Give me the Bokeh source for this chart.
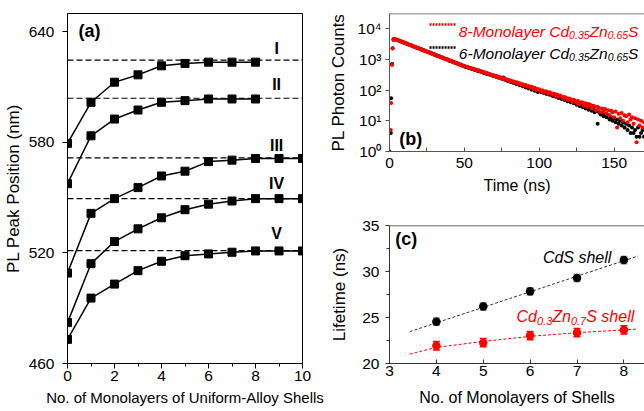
import math
from bokeh.plotting import figure
from bokeh.layouts import row, column
from bokeh.models import Range1d, Span, FixedTicker, Whisker, TeeHead, ColumnDataSource
from bokeh.core.properties import value
from bokeh.embed import file_html
from bokeh.resources import INLINE

FONT = "Liberation Sans"

# ---------------- data: panel (a) ----------------
shells_a = [0, 1, 2, 3, 4, 5, 6, 7, 8, 9, 10]
peak_I = [579.5, 601.8, 612.7, 616.7, 621.6, 622.9, 623.6, 623.6, 623.6]
peak_II = [557.6, 583.6, 592.7, 597.6, 601.8, 602.7, 603.6, 603.6, 603.6]
peak_III = [509.1, 541.5, 549.5, 555.5, 561.8, 564.4, 569.6, 570.4, 571.3, 571.3, 571.3]
peak_IV = [482.2, 514.2, 526.2, 533.1, 539.1, 543.5, 546.5, 548.2, 549.5, 549.5, 549.5]
peak_V = [473.1, 495.5, 503.1, 510.4, 515.5, 518.5, 519.5, 520.4, 521.1, 521.1, 521.1]
bulk_levels = [624.7, 604.0, 571.6, 549.5, 521.3]
series_names = ["I", "II", "III", "IV", "V"]
xticks_a = [0, 2, 4, 6, 8, 10]
xminor_a = [1, 3, 5, 7, 9]
yticks_a = [460, 520, 580, 640]

# ---------------- data: panel (b) ----------------
time_8ml = [0.8, 1.1, 1.7, 2.0, 2.6] + list(range(3, 171))
counts_8ml = [5, 38, 650, 2240, 4400,
    4700, 4520, 4250, 4130, 3890, 3800, 3560, 3470, 3250, 3180,
    2990, 2930, 2720, 2680, 2490, 2450, 2290, 2250, 2090, 2060,
    1910, 1890, 1750, 1730, 1600, 1590, 1460, 1450, 1340, 1330,
    1230, 1220, 1130, 1120, 1030, 1020, 945, 935, 865, 858,
    790, 785, 725, 720, 662, 660, 605,
    600, 585, 548, 540, 505, 512, 470, 470, 438, 445,
    405, 412, 380, 385, 352, 360, 330, 333, 305, 310,
    284, 290, 262, 270, 246, 252, 228, 235, 212, 218,
    198, 205, 183, 190, 172, 178, 158, 166, 148, 155,
    137, 145, 128, 134, 118, 127, 110, 118, 101, 108,
    104, 91, 99, 83, 92, 88, 76, 84, 79, 70,
    75, 64, 71, 60, 66, 62, 52, 59, 56, 47,
    53, 50, 41, 48, 45, 37, 44, 35, 40, 39,
    31, 37, 28, 35, 33, 25, 31, 29, 22, 28,
    26, 19, 25, 20, 24, 17, 22, 15, 21, 19,
    13, 20, 6, 17, 12, 18, 10, 15, 14, 9,
    16, 11, 13, 8, 12, 2, 11, 7, 10, 6, 9]
time_6ml = [0.0, 0.9, 1.1, 1.7, 2.1, 2.6] + list(range(3, 171))
counts_6ml = [1, 4, 54, 700, 2300, 4300,
    4600, 4430, 4310, 4060, 3960, 3720, 3630, 3400, 3320, 3110,
    3050, 2850, 2790, 2610, 2560, 2390, 2350, 2190, 2150, 2000,
    1970, 1830, 1800, 1680, 1650, 1540, 1510, 1410, 1390, 1290,
    1270, 1180, 1170, 1080, 1070, 990, 980, 905, 896, 828,
    822, 758, 752, 694, 690, 636, 632,
    582, 565, 558, 520, 522, 485, 490, 450, 455, 418,
    425, 390, 392, 360, 365, 335, 340, 312, 316, 290,
    293, 268, 274, 250, 254, 232, 257, 215, 220, 198,
    204, 182, 190, 168, 176, 155, 162, 143, 150, 132,
    139, 122, 128, 112, 118, 103, 110, 95, 101, 87,
    95, 86, 90, 80, 84, 74, 79, 70, 73, 64,
    68, 60, 63, 55, 58, 51, 54, 47, 50, 43,
    46, 40, 43, 37, 39, 33, 36, 30, 33, 28,
    30, 25, 28, 23, 26, 21, 24, 19, 21, 8,
    19, 16, 18, 14, 16, 13, 15, 11, 13, 10,
    12, 9, 11, 8, 10, 7, 9, 6, 8, 5,
    7, 4, 6, 4, 5, 3, 6, 3, 4, 5, 3]
xticks_b = [0, 50, 100, 150]
xminor_b = [25, 75, 125]
yticks_b = [1, 10, 100, 1000, 10000]
ylabels_b = ["10\u2070", "10\u00b9", "10\u00b2", "10\u00b3", "10\u2074"]

# ---------------- data: panel (c) ----------------
layers_c = [4, 5, 6, 7, 8]
life_cds = [24.55, 26.2, 27.84, 29.3, 31.24]
err_cds = [0.4, 0.4, 0.4, 0.4, 0.4]
life_alloy = [21.93, 22.26, 23.03, 23.35, 23.65]
err_alloy = [0.45, 0.45, 0.45, 0.45, 0.45]
fit_x_cds = [3.43, 8.3]
fit_y_cds = [23.46, 31.68]
fit_x_alloy = [3.43, 4, 5, 6, 7, 8, 8.3]
fit_y_alloy = [21.02, 21.75, 22.4, 22.95, 23.35, 23.65, 23.75]
xticks_c = [3, 4, 5, 6, 7, 8]
yticks_c = [20, 25, 30, 35]
yminor_c = [22.5, 27.5, 32.5]

RED = "#ff0000"

# ---------------- layout geometry (page has no margin) ----------------
A_W, A_H = 325, 411
A_BL, A_BR, A_BT, A_BB = 66, 23, 13, 48
B_W, B_H = 319, 215
B_BL, B_BR, B_BT, B_BB = 58, 0, 13, 64
C_W, C_H = 319, 196
C_BL, C_BR, C_BT, C_BB = 58, 0, 10, 48
A_X = (0, 10); A_Y = (460, 650)
B_X = (0, 170.3); B_Y = (1, 30900)
C_X = (3, 8.44); C_Y = (20, 35)


def a_x(px):
    l = A_BL; w = A_W - A_BL - A_BR
    return A_X[0] + (px - l) / w * (A_X[1] - A_X[0])


def a_y(py):
    t = A_BT; h = A_H - A_BT - A_BB
    return A_Y[1] - (py - t) / h * (A_Y[1] - A_Y[0])


def b_x(px):
    l = A_W + B_BL; w = B_W - B_BL - B_BR
    return B_X[0] + (px - l) / w * (B_X[1] - B_X[0])


def b_y(py):
    t = B_BT; h = B_H - B_BT - B_BB
    lo, hi = math.log10(B_Y[0]), math.log10(B_Y[1])
    return 10 ** (hi - (py - t) / h * (hi - lo))


def c_x(px):
    l = A_W + C_BL; w = C_W - C_BL - C_BR
    return C_X[0] + (px - l) / w * (C_X[1] - C_X[0])


def c_y(py):
    t = B_H + C_BT; h = C_H - C_BT - C_BB
    return C_Y[1] - (py - t) / h * (C_Y[1] - C_Y[0])


ADV = {'0': 556, '1': 556, '2': 556, '3': 556, '4': 556, '5': 556, '6': 556,
       '7': 556, '8': 556, '9': 556, '.': 278, '-': 333, ' ': 278, 'M': 833,
       'o': 556, 'n': 556, 'l': 222, 'a': 556, 'y': 500, 'e': 556, 'r': 333,
       'C': 722, 'd': 556, 'Z': 611, 'S': 667, 's': 500, 'h': 556}


def tw(s, size):
    return sum(ADV.get(ch, 556) for ch in s) * size / 1000.0


def rich(p, x, y, parts, color, size, subsize, drop):
    off = 0.0
    for s, sub in parts:
        fs = subsize if sub else size
        p.text(x=[x], y=[y], text=[s], x_offset=off, y_offset=(drop if sub else 0),
               text_font=value(FONT), text_font_style="italic",
               text_font_size=f"{fs}px", text_color=color,
               text_baseline="alphabetic", text_align="left")
        off += tw(s, fs)


def style(p, color, xlabel, ylabel, xsize="16px"):
    p.xgrid.visible = False
    p.ygrid.visible = False
    p.background_fill_color = "white"
    p.border_fill_color = "white"
    for ax in (p.xaxis[0], p.yaxis[0]):
        ax.axis_line_color = color
        ax.axis_line_width = 1
        ax.major_tick_line_color = color
        ax.minor_tick_line_color = color
        ax.major_label_text_font = FONT
        ax.major_label_text_font_size = "15.5px"
        ax.major_label_text_color = "black"
        ax.axis_label_text_font = FONT
        ax.axis_label_text_font_style = "normal"
        ax.axis_label_text_color = "black"
    p.xaxis[0].axis_label = xlabel
    p.yaxis[0].axis_label = ylabel
    p.xaxis[0].axis_label_text_font_size = xsize
    p.yaxis[0].axis_label_text_font_size = "17px"


# ---------------- panel (a) ----------------
pa = figure(width=A_W, height=A_H, x_range=Range1d(*A_X), y_range=Range1d(*A_Y),
            output_backend="svg", toolbar_location=None,
            min_border_left=A_BL, min_border_right=A_BR,
            min_border_top=A_BT, min_border_bottom=A_BB)
style(pa, "black", "No. of Monolayers of Uniform-Alloy Shells", "PL Peak Position (nm)",
      xsize="15px")
pa.outline_line_color = "black"
pa.outline_line_width = 1
pa.xaxis.ticker = FixedTicker(ticks=xticks_a, minor_ticks=xminor_a)
pa.yaxis.ticker = FixedTicker(ticks=yticks_a, minor_ticks=[])
pa.xaxis.major_tick_out = 5; pa.xaxis.major_tick_in = 0
pa.xaxis.minor_tick_out = 3; pa.xaxis.minor_tick_in = 0
pa.yaxis.major_tick_out = 5; pa.yaxis.major_tick_in = 0
pa.xaxis.major_label_standoff = 2; pa.xaxis.axis_label_standoff = 5
pa.yaxis.major_label_standoff = 8; pa.yaxis.axis_label_standoff = 3

for lev in bulk_levels:
    pa.add_layout(Span(location=lev, dimension="width", line_color="black",
                       line_width=1.2, line_dash="6 3"))
for ys in (peak_I, peak_II, peak_III, peak_IV, peak_V):
    xs = shells_a[:len(ys)]
    pa.line(xs, ys, line_color="black", line_width=1.5)
    pa.scatter(xs, ys, marker="square", size=8, fill_color="black", line_color="black")

pa.text(x=[a_x(276)] * 5, y=bulk_levels, text=series_names,
        y_offset=[-12, -14, -12, -15, -17],
        text_font=value(FONT), text_font_style="bold", text_font_size="16px",
        text_color="black", text_align="center", text_baseline="middle")
pa.text(x=[a_x(77)], y=[a_y(30)], text=["(a)"], text_font=value(FONT),
        text_font_style="bold", text_font_size="18px", text_color="black",
        text_align="left", text_baseline="middle")

# ---------------- panel (b) ----------------
GRAY = "#555555"
pb = figure(width=B_W, height=B_H, x_range=Range1d(*B_X), y_range=Range1d(*B_Y),
            y_axis_type="log", output_backend="svg", toolbar_location=None,
            min_border_left=B_BL, min_border_right=B_BR,
            min_border_top=B_BT, min_border_bottom=B_BB)
style(pb, GRAY, "Time (ns)", "PL Photon Counts")
pb.outline_line_color = None
pb.add_layout(Span(location=B_Y[1], dimension="width", line_color=GRAY, line_width=1.5))
pb.xaxis.ticker = FixedTicker(ticks=xticks_b, minor_ticks=xminor_b)
pb.yaxis.ticker = FixedTicker(ticks=yticks_b, minor_ticks=[])
pb.yaxis.major_label_overrides = {k: v for k, v in zip(yticks_b, ylabels_b)}
pb.xaxis.major_tick_in = 4; pb.xaxis.major_tick_out = 0
pb.xaxis.minor_tick_in = 4; pb.xaxis.minor_tick_out = 0
pb.yaxis.major_tick_out = 4; pb.yaxis.major_tick_in = 0
pb.xaxis.major_label_standoff = 6; pb.xaxis.axis_label_standoff = 6
pb.yaxis.major_label_standoff = 4; pb.yaxis.axis_label_standoff = 7

pb.scatter(time_6ml, counts_6ml, size=4, fill_color="black", line_color=None)
pb.scatter(time_8ml, counts_8ml, size=4, fill_color=RED, line_color=None)

# legend
for col, py in ((RED, 24), ("black", 47)):
    pb.line([b_x(424), b_x(451)], [b_y(py), b_y(py)], line_color=col,
            line_width=2.5, line_dash="2 1")
rich(pb, b_x(454), b_y(30.5),
     [("8-Monolayer Cd", False), ("0.35", True), ("Zn", False), ("0.65", True), ("S", False)],
     RED, 15.5, 10.5, 3.5)
rich(pb, b_x(454), b_y(52.5),
     [("6-Monolayer Cd", False), ("0.35", True), ("Zn", False), ("0.65", True), ("S", False)],
     "black", 15.5, 10.5, 3.5)
pb.text(x=[b_x(393)], y=[b_y(138)], text=["(b)"], text_font=value(FONT),
        text_font_style="bold", text_font_size="18px", text_color="black",
        text_align="left", text_baseline="middle")

# ---------------- panel (c) ----------------
CAX = "#333333"
pc = figure(width=C_W, height=C_H, x_range=Range1d(*C_X), y_range=Range1d(*C_Y),
            output_backend="svg", toolbar_location=None,
            min_border_left=C_BL, min_border_right=C_BR,
            min_border_top=C_BT, min_border_bottom=C_BB)
style(pc, CAX, "No. of Monolayers of Shells", "Lifetime (ns)")
pc.outline_line_color = None
pc.add_layout(Span(location=C_Y[1], dimension="width", line_color=CAX, line_width=1.5))
pc.xaxis.ticker = FixedTicker(ticks=xticks_c, minor_ticks=[])
pc.yaxis.ticker = FixedTicker(ticks=yticks_c, minor_ticks=yminor_c)
pc.xaxis.major_tick_in = 4; pc.xaxis.major_tick_out = 0
pc.yaxis.major_tick_out = 4; pc.yaxis.major_tick_in = 0
pc.yaxis.minor_tick_out = 3; pc.yaxis.minor_tick_in = 0
pc.xaxis.major_label_standoff = 2; pc.xaxis.axis_label_standoff = 10
pc.yaxis.major_label_standoff = 6; pc.yaxis.axis_label_standoff = 10

pc.line(fit_x_cds, fit_y_cds, line_color="#333333", line_width=1, line_dash="3 2")
pc.line(fit_x_alloy, fit_y_alloy, line_color=RED, line_width=1, line_dash="3 2")

src_cds = ColumnDataSource(dict(x=layers_c, y=life_cds,
                                lo=[v - e for v, e in zip(life_cds, err_cds)],
                                hi=[v + e for v, e in zip(life_cds, err_cds)]))
src_alloy = ColumnDataSource(dict(x=layers_c, y=life_alloy,
                                  lo=[v - e for v, e in zip(life_alloy, err_alloy)],
                                  hi=[v + e for v, e in zip(life_alloy, err_alloy)]))
pc.add_layout(Whisker(source=src_cds, base="x", lower="lo", upper="hi",
                      line_color="#999999", line_width=1.5,
                      upper_head=TeeHead(size=7, line_color="#999999", line_width=1.5),
                      lower_head=TeeHead(size=7, line_color="#999999", line_width=1.5)))
pc.add_layout(Whisker(source=src_alloy, base="x", lower="lo", upper="hi",
                      line_color=RED, line_width=1.5,
                      upper_head=TeeHead(size=7, line_color=RED, line_width=1.5),
                      lower_head=TeeHead(size=7, line_color=RED, line_width=1.5)))
pc.scatter("x", "y", source=src_cds, size=8.5, fill_color="black", line_color=None)
pc.scatter("x", "y", source=src_alloy, size=8.5, fill_color=RED, line_color=None)

pc.text(x=[c_x(540)], y=[c_y(257)], text=["CdS shell"], text_font=value(FONT),
        text_font_style="italic", text_font_size="16px", text_color="black",
        text_align="left", text_baseline="alphabetic")
rich(pc, c_x(513), c_y(316),
     [("Cd", False), ("0.3", True), ("Zn", False), ("0.7", True), ("S shell", False)],
     RED, 16, 11, 4)
pc.text(x=[c_x(389)], y=[c_y(238)], text=["(c)"], text_font=value(FONT),
        text_font_style="bold", text_font_size="18px", text_color="black",
        text_align="left", text_baseline="middle")

layout = row(pa, column(pb, pc))
open("out.html", "w").write(file_html(layout, INLINE, "PL figure"))
